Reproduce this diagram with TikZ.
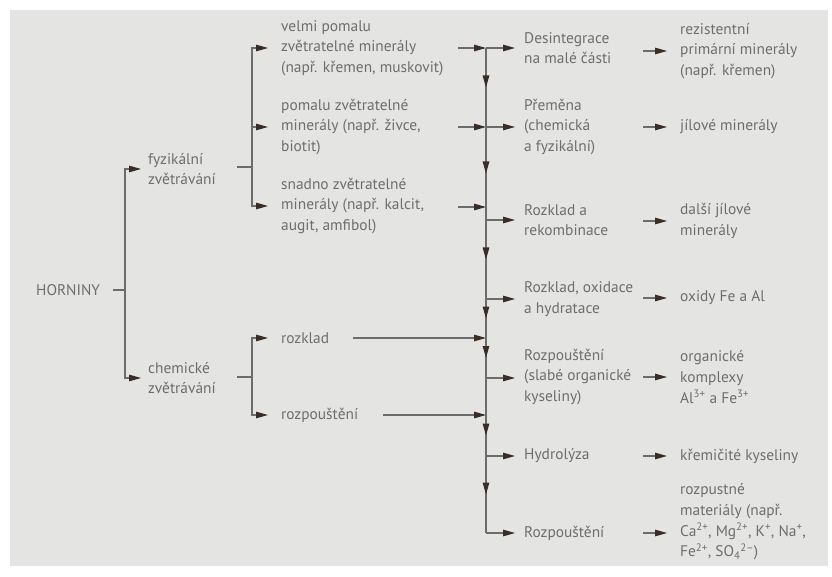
\documentclass[tikz,border=0pt]{standalone}
\usepackage{fontspec}
\setmainfont{PT Sans}
\usetikzlibrary{arrows.meta,decorations.markings,calc}
\definecolor{bgc}{HTML}{E4E4E2}
\definecolor{txtc}{HTML}{6E6E6E}
\definecolor{lnc}{HTML}{6C6C6C}
\definecolor{tipc}{HTML}{3A2D27}
\begin{document}
\begin{tikzpicture}[x=1pt,y=-1pt,
  lbl/.style={anchor=west, inner sep=0pt, align=left, text=txtc, font=\fontsize{15.4}{20.6}\selectfont},
  ln/.style={draw=lnc, line width=1.1pt},
  arr/.style={ln, -{Triangle[length=12pt,width=6.5pt,color=tipc]}},
  midarr/.style={postaction={decorate}, decoration={markings, mark=at position 0.5 with {\arrow{Triangle[length=12pt,width=6.5pt,color=tipc]}}}}
]
\fill[white] (0,0) rectangle (832,577);
\fill[bgc] (10,10) rectangle (828,566);
\useasboundingbox (0,0) rectangle (832,577);

% left
\node[lbl] (hor) at (36,290) {HORNINY};
\node[lbl] (fyz) at (148,169) {fyzikální\\zvětrávání};
\node[lbl] (chem) at (148,378) {chemické\\zvětrávání};
% second column
\node[lbl] (a1) at (281,48) {velmi pomalu\\zvětratelné minerály\\(např. křemen, muskovit)};
\node[lbl] (a2) at (281,127) {pomalu zvětratelné\\minerály (např. živce,\\biotit)};
\node[lbl] (a3) at (281,206) {snadno zvětratelné\\minerály (např. kalcit,\\augit, amfibol)};
\node[lbl] (b1) at (281,338) {rozklad};
\node[lbl] (b2) at (281,415) {rozpouštění};
% middle column
\node[lbl] (m1) at (524,48) {Desintegrace\\na malé části};
\node[lbl] (m2) at (524,127) {Přeměna\\(chemická\\a fyzikální)};
\node[lbl] (m3) at (524,220) {Rozklad a\\rekombinace};
\node[lbl] (m4) at (524,299) {Rozklad, oxidace\\a hydratace};
\node[lbl] (m5) at (524,377) {Rozpouštění\\(slabé organické\\kyseliny)};
\node[lbl] (m6) at (524,456) {Hydrolýza};
\node[lbl] (m7) at (524,533) {Rozpouštění};
% right column
\node[lbl] (r1) at (680,51) {rezistentní\\primární minerály\\(např. křemen)};
\node[lbl] (r2) at (680,127) {jílové minerály};
\node[lbl] (r3) at (680,221) {další jílové\\minerály};
\node[lbl] (r4) at (680,298) {oxidy Fe a Al};
\node[lbl] (r5) at (680,377) {organické\\komplexy\\Al\textsuperscript{3+} a Fe\textsuperscript{3+}};
\node[lbl] (r6) at (680,456) {křemičité kyseliny};
\node[lbl] (r7) at (680,522) {rozpustné\\materiály (např.\\Ca\textsuperscript{2+}, Mg\textsuperscript{2+}, K\textsuperscript{+}, Na\textsuperscript{+},\\Fe\textsuperscript{2+}, SO\textsubscript{4}\textsuperscript{2--})};

% junction coordinates
\coordinate (jL) at (125,290);
\coordinate (jLs) at (113,290);
\coordinate (jF) at (252,167);
\coordinate (jFs) at (237,167);
\coordinate (jC) at (252,377);
\coordinate (jCs) at (237,377);
\coordinate (t0) at (486,48);
\coordinate (tA) at (486,127);
\coordinate (tB) at (486,207);
\coordinate (tC) at (486,220);
\coordinate (tD) at (486,299);
\coordinate (tE) at (486,338);
\coordinate (tF) at (486,378);
\coordinate (tG) at (486,415);
\coordinate (tH) at (486,456);
\coordinate (tI) at (486,533);
\coordinate (i1) at (458,48);
\coordinate (i2) at (458,127);
\coordinate (i3) at (458,207);
\coordinate (e1) at (353,338);
\coordinate (e2) at (383,415);
\coordinate (s1) at (643,51);
\coordinate (s2) at (643,127);
\coordinate (s3) at (643,221);
\coordinate (s4) at (643,298);
\coordinate (s5) at (643,377);
\coordinate (s6) at (643,456);
\coordinate (s7) at (643,533);

% HORNINY bracket
\draw[ln] (jLs) -- (jL);
\draw[arr, shorten >=7pt] (jL) |- (fyz.west);
\draw[arr, shorten >=7pt] (jL) |- (chem.west);
% physical bracket
\draw[ln] (jFs) -- (jF);
\draw[arr, shorten >=13pt] (jF) |- (a1.west);
\draw[arr, shorten >=13pt] (jF) |- (a2.west);
\draw[arr, shorten >=13pt] (jF) |- (a3.west);
% chemical bracket
\draw[ln] (jCs) -- (jC);
\draw[arr, shorten >=13pt] (jC) |- (b1.west);
\draw[arr, shorten >=13pt] (jC) |- (b2.west);

% incoming to trunk
\draw[arr] (i1) -- (t0);
\draw[arr] (i2) -- (tA);
\draw[arr] (i3) -- (tB);
\draw[arr] (e1) -- (tE);
\draw[arr] (e2) -- (tG);

% trunk
\draw[ln, midarr] (t0) -- (tA);
\draw[ln, midarr] (tA) -- (tC);
\draw[ln, midarr] (tC) -- (tD);
\draw[ln, midarr] (tD) -- (tE);
\draw[ln, midarr] (tE) -- (tF);
\draw[ln] (tF) -- (tG);
\draw[ln, midarr] (tG) -- (tH);
\draw[ln, midarr] (tH) -- (tI);

% outgoing from trunk
\draw[arr, shorten >=9pt] (t0) -- (t0 -| m1.west);
\draw[arr, shorten >=9pt] (tA) -- (tA -| m2.west);
\draw[arr, shorten >=9pt] (tC) -- (tC -| m3.west);
\draw[arr, shorten >=9pt] (tD) -- (tD -| m4.west);
\draw[arr, shorten >=9pt] (tF) -- (tF -| m5.west);
\draw[arr, shorten >=9pt] (tH) -- (tH -| m6.west);
\draw[arr, shorten >=9pt] (tI) -- (tI -| m7.west);

% right arrows
\draw[arr, shorten >=13pt] (s1) -- (s1 -| r1.west);
\draw[arr, shorten >=13pt] (s2) -- (s2 -| r2.west);
\draw[arr, shorten >=13pt] (s3) -- (s3 -| r3.west);
\draw[arr, shorten >=13pt] (s4) -- (s4 -| r4.west);
\draw[arr, shorten >=13pt] (s5) -- (s5 -| r5.west);
\draw[arr, shorten >=13pt] (s6) -- (s6 -| r6.west);
\draw[arr, shorten >=13pt] (s7) -- (s7 -| r7.west);
\end{tikzpicture}
\end{document}
